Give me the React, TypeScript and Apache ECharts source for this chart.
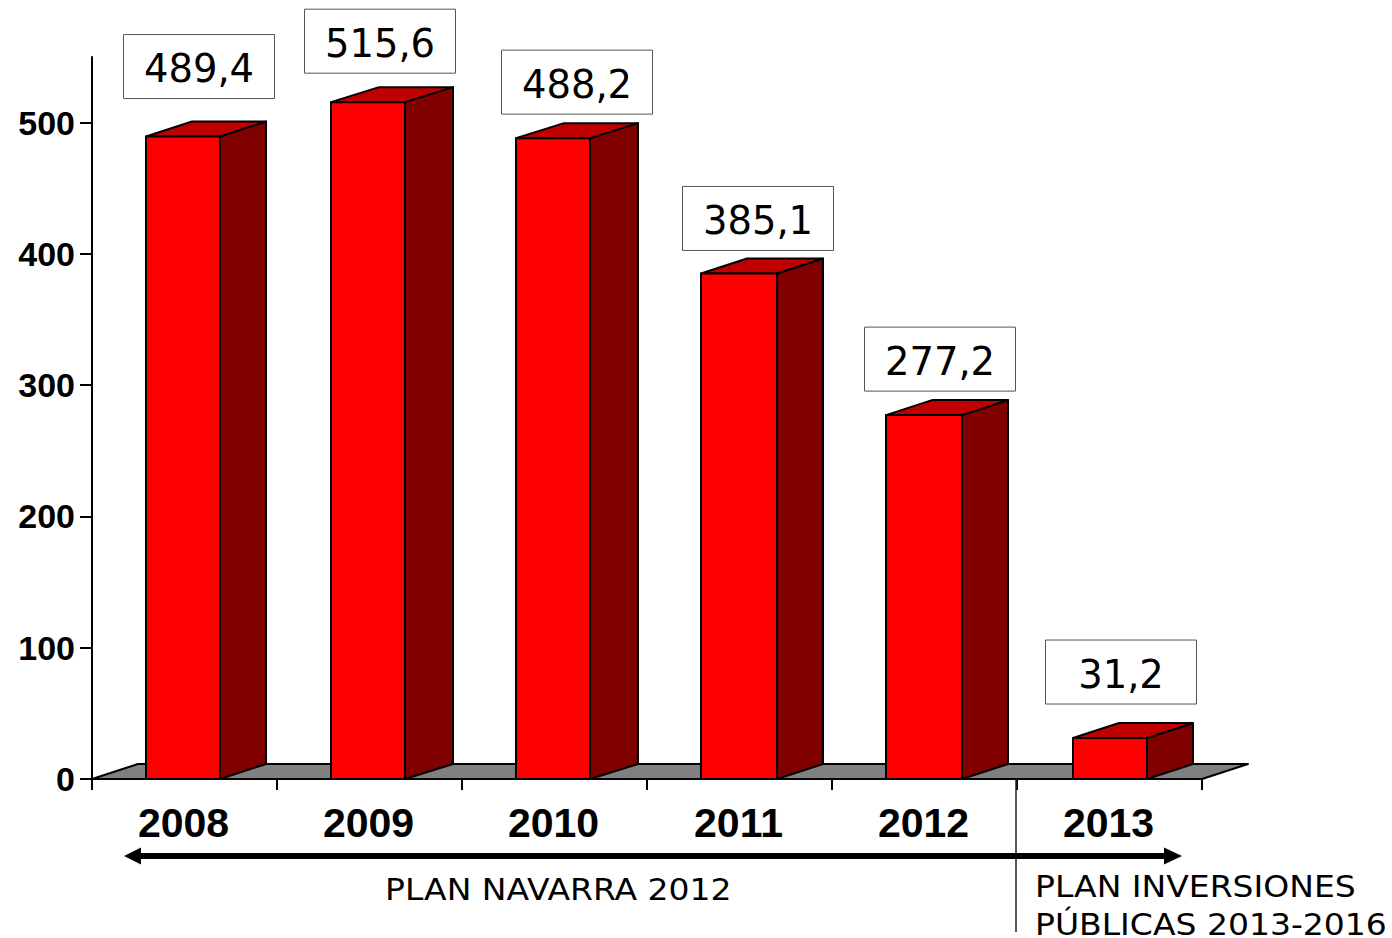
import React, { useEffect, useRef } from "react";
import * as echarts from "echarts";

const categories = ["2008", "2009", "2010", "2011", "2012", "2013"];
const values = [489.4, 515.6, 488.2, 385.1, 277.2, 31.2];
const yTicks = { min: 0, max: 550, interval: 100 };
const planLeft = "PLAN NAVARRA 2012";
const planRightLines = ["PLAN INVERSIONES", "PÚBLICAS 2013-2016"];

// drawing layout (pixels), separate from the data
const barLeft = [-38.5, -38.5, -38.5, -38.5, -38.5, -36.5];
const barWide = [74, 74, 74, 76, 76, 74];
const barDepth = [46, 48, 48, 46, 46, 46];
const boxDx = [14.5, 10.5, 22.5, 18.5, 15.5, 11.5];
const boxDy = [-70, -61, -56, -55, -56, -66];
const DEPTH_X = 46;
const DEPTH_Y = 15;
const BOX_W = 151;
const BOX_H = 64;

const line = { stroke: "#000", lineWidth: 2, lineJoin: "round" as const };

function renderFloor(params: any) {
  const c = params.coordSys;
  const x0 = c.x;
  const x1 = c.x + c.width;
  const y = c.y + c.height;
  return {
    type: "polygon",
    shape: { points: [[x0, y], [x0 + DEPTH_X, y - DEPTH_Y], [x1 + DEPTH_X, y - DEPTH_Y], [x1, y]] },
    style: { fill: "#808080", ...line },
  };
}

function renderBar(params: any, api: any) {
  const i = params.dataIndex;
  const val = api.value(1);
  const [cx, top] = api.coord([api.value(0), val]);
  const [, base] = api.coord([api.value(0), 0]);
  const l = cx + barLeft[i];
  const r = l + barWide[i];
  const dx = barDepth[i];
  const dy = DEPTH_Y;
  const boxCx = cx + boxDx[i];
  const boxCy = top + boxDy[i];
  return {
    type: "group",
    children: [
      {
        type: "polygon",
        shape: { points: [[r, top], [r + dx, top - dy], [r + dx, base - dy], [r, base]] },
        style: { fill: "#800000", ...line },
      },
      {
        type: "polygon",
        shape: { points: [[l, top], [l + dx, top - dy], [r + dx, top - dy], [r, top]] },
        style: { fill: "#C00000", ...line },
      },
      {
        type: "rect",
        shape: { x: l, y: top, width: r - l, height: base - top },
        style: { fill: "#FF0000", ...line },
      },
      {
        type: "rect",
        shape: { x: boxCx - BOX_W / 2, y: boxCy - BOX_H / 2, width: BOX_W, height: BOX_H },
        style: { fill: "#fff", stroke: "#555", lineWidth: 1 },
      },
      {
        type: "text",
        x: boxCx,
        y: boxCy + 2,
        style: {
          text: val.toFixed(1).replace(".", ","),
          fontFamily: "DejaVu Sans",
          fontSize: 38.5,
          fill: "#000",
          align: "center",
          verticalAlign: "middle",
        },
      },
    ],
  };
}

const annotationText = (text: string, x: number, y: number) => ({
  type: "text",
  x,
  y,
  scaleX: 1.065,
  style: {
    text,
    fontFamily: "DejaVu Sans",
    fontSize: 31,
    lineHeight: 26,
    fill: "#000",
    align: "left",
    verticalAlign: "middle",
  },
});

export default function App() {
  const ref = useRef<HTMLDivElement>(null);
  useEffect(() => {
    const chart = echarts.init(ref.current!, undefined, { renderer: "svg" });
    chart.setOption({
      animation: false,
      backgroundColor: "#fff",
      grid: { left: 92, top: 57, width: 1110, height: 722, containLabel: false },
      xAxis: {
        type: "category",
        data: categories,
        axisLine: { lineStyle: { color: "#000", width: 2 } },
        axisTick: { show: true, length: 11, lineStyle: { color: "#000", width: 2 }, alignWithLabel: false },
        axisLabel: {
          interval: 0,
          margin: 23,
          padding: [0, 2, 0, 0],
          color: "#000",
          fontFamily: "Liberation Sans",
          fontWeight: "bold",
          fontSize: 41,
        },
      },
      yAxis: {
        type: "value",
        min: yTicks.min,
        max: yTicks.max,
        interval: yTicks.interval,
        splitLine: { show: false },
        axisLine: { show: true, lineStyle: { color: "#000", width: 2 } },
        axisTick: { show: true, length: 12, lineStyle: { color: "#000", width: 2 } },
        axisLabel: {
          margin: 17,
          color: "#000",
          fontFamily: "Liberation Sans",
          fontWeight: "bold",
          fontSize: 34,
          showMaxLabel: false,
        },
      },
      series: [
        { type: "custom", silent: true, z: 1, renderItem: renderFloor, data: [[0, 0]] },
        {
          type: "custom",
          silent: true,
          z: 3,
          renderItem: renderBar,
          encode: { x: 0, y: 1 },
          data: values.map((v, i) => [i, v]),
        },
      ],
      graphic: [
        {
          type: "line",
          z: 10,
          shape: { x1: 1016, y1: 779, x2: 1016, y2: 932 },
          style: { stroke: "#222", lineWidth: 1.5 },
        },
        {
          type: "polygon",
          z: 11,
          shape: {
            points: [
              [124, 856], [141, 847.5], [141, 853], [1164, 853], [1164, 847.5],
              [1182, 856], [1164, 864.5], [1164, 859], [141, 859], [141, 864.5],
            ],
          },
          style: { fill: "#000" },
        },
        annotationText(planLeft, 385, 889),
        annotationText(planRightLines[0], 1035, 886),
        annotationText(planRightLines[1], 1035, 924),
      ],
    });
    return () => chart.dispose();
  }, []);
  return (
    <div
      ref={ref}
      style={{ position: "absolute", left: 0, top: 0, width: 1392, height: 938 }}
    />
  );
}
